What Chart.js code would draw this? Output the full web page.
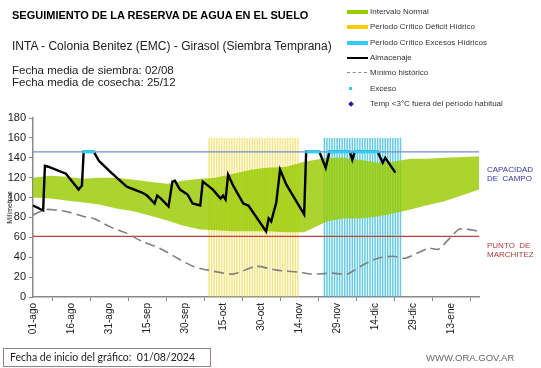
<!DOCTYPE html>
<html>
<head>
<meta charset="utf-8">
<script src="https://cdn.jsdelivr.net/npm/chart.js@4"></script>
<style>
  body { margin: 0; background: #fff; font-family: "Liberation Sans", Arial, sans-serif; }
  #wrap { position: relative; width: 541px; height: 368px; overflow: hidden; }
  #grafico { position: absolute; left: 0; top: 0; }
  .txt { position: absolute; white-space: nowrap; color: #222; }
  .ley { position: absolute; left: 370px; font-size: 8px; color: #333; white-space: nowrap; }
  .sw { position: absolute; left: 347px; width: 21px; height: 4px; }
</style>
</head>
<body>
<div id="wrap">
  <canvas id="grafico" width="541" height="368"></canvas>

  <div class="txt" style="left:12px; top:9px; font-size:11px; font-weight:bold; color:#000;">SEGUIMIENTO DE LA RESERVA DE AGUA  EN EL SUELO</div>
  <div class="txt" style="left:12px; top:39px; font-size:12px;">INTA - Colonia Benitez (EMC) - Girasol (Siembra Temprana)</div>
  <div class="txt" style="left:12px; top:64px; font-size:11.5px;">Fecha media de siembra: 02/08</div>
  <div class="txt" style="left:12px; top:76px; font-size:11.5px;">Fecha media de cosecha: 25/12</div>

  <!-- Leyenda -->
  <div class="sw" style="top:10px; background:#99cc00;"></div>
  <div class="ley" style="top:7px;">Intervalo Normal</div>
  <div class="sw" style="top:25px; background:#ffcc00;"></div>
  <div class="ley" style="top:22px;">Periodo Crítico Déficit Hídrico</div>
  <div class="sw" style="top:41px; background:#33ccff;"></div>
  <div class="ley" style="top:38px;">Periodo Crítico Excesos Hídricos</div>
  <div class="sw" style="top:57px; height:2px; background:#000;"></div>
  <div class="ley" style="top:53px;">Almacenaje</div>
  <div class="sw" style="top:72px; height:0; border-top:1.5px dashed #888; width:20px;"></div>
  <div class="ley" style="top:68px;">Mínimo histórico</div>
  <div class="sw" style="top:87px; left:349px; width:3px; height:3px; background:#33ccee;"></div>
  <div class="ley" style="top:84px;">Exceso</div>
  <div class="sw" style="top:102px; left:349px; width:4px; height:4px; background:#1a1aa0; transform:rotate(45deg);"></div>
  <div class="ley" style="top:99px;">Temp &lt;3°C fuera del período habitual</div>

  <!-- Etiquetas a la derecha -->
  <div class="txt" style="left:487px; top:165px; font-size:8px; line-height:9px; color:#3333aa;">CAPACIDAD<br>DE&nbsp; CAMPO</div>
  <div class="txt" style="left:487px; top:241px; font-size:8px; line-height:9px; color:#b03a3a;">PUNTO&nbsp; DE<br>MARCHITEZ</div>

  <!-- Pie -->
  <div class="txt" style="left:3px; top:348px; width:208px; height:19px; border:1px solid #9c7f7f; box-sizing:border-box;"></div>
  <div class="txt" style="left:10px; top:351px; font-family:Lato, sans-serif; font-size:10.5px; color:#222;">Fecha de inicio del gráfico:&nbsp; 01/08/2024</div>
  <div class="txt" style="left:426px; top:352px; font-size:9.5px; color:#666;">WWW.ORA.GOV.AR</div>
</div>

<script>
// --- Datos (días desde 01/08/2024, milímetros) ---
const tickDays = [0, 15, 30, 45, 60, 75, 90, 105, 120, 135, 150, 165];
const tickLabels = ["01-ago", "16-ago", "31-ago", "15-sep", "30-sep", "15-oct", "30-oct", "14-nov", "29-nov", "14-dic", "29-dic", "13-ene"];

// Intervalo normal
const bandDays  = [0, 7, 13, 20, 26, 33, 40, 46, 53, 59, 66, 72, 79, 86, 92, 100, 107, 116, 122, 129, 136, 142, 149, 155, 162, 168, 176];
const bandUpper = [120, 122, 121, 119, 120, 120, 118, 116, 114, 117, 119, 120, 124, 128, 130, 131, 136, 140, 140, 138, 135, 136, 139, 139, 140, 140.5, 141.5];
const bandLower = [100, 99, 97, 95, 93, 89, 86, 82, 77, 72, 68, 67, 66, 66, 66, 65, 65, 76, 79, 79, 81, 84, 88, 92, 96, 101, 108];

// Mínimo histórico
const minDays   = [0, 5, 13, 20, 24, 30, 37, 43, 50, 57, 63, 69, 79, 88, 96, 105, 110, 118, 124, 130, 136, 142, 147, 156, 160, 168, 172, 176];
const minValues = [82.5, 88, 86, 81, 79, 71, 64, 56, 49, 39, 31, 27, 23, 31, 27, 25, 23, 24, 23, 32, 39, 41, 39, 49, 48, 68, 68, 66];

// Almacenaje
const almDays   = [0, 4, 4.7, 6, 13, 18, 19.3, 20, 24, 26, 30, 37, 43, 45, 48, 49, 50.5, 53.5, 55, 56, 58, 61, 63, 66, 67, 71, 74, 75, 76, 77, 79, 83, 85, 92, 93, 94, 96, 97.5, 100, 107, 107.8, 113, 115.5, 117, 125, 126, 127, 136, 138, 139, 143];
const almValues = [92, 87, 132, 131, 124, 108, 112, 146, 146, 137, 127, 111, 105, 102, 94, 102, 99, 91, 116, 117, 108, 103, 94, 92, 116, 108, 99, 102, 98, 123, 112, 94, 92, 66, 79, 76, 95, 128, 113, 83, 146, 146, 130, 146, 146, 138, 146, 146, 135, 140, 125];

// Exceso (tramos en capacidad de campo)
const excesoRanges = [[20, 24], [108, 113], [117, 125], [127, 136]];
const excesoValue = 146;

// Periodos críticos
const deficitPeriod = [69.5, 105];
const excesoPeriod = [115, 145];
const periodTop = 160;

// Umbrales
const capacidadCampo = 146;
const puntoMarchitez = 61;
const xMax = 176;

// --- Hilfsfunktionen ---
function pares(xs, ys) {
    return xs.map((x, i) => ({ x: x, y: ys[i] }));
}

function franjas(rango) {
    const out = [];
    for (let d = rango[0]; d <= rango[1]; d++) out.push({ x: d, y: periodTop });
    return out;
}

const excesoPts = [];
excesoRanges.forEach(r => {
    for (let d = r[0]; d <= r[1]; d += 0.5) excesoPts.push({ x: d, y: excesoValue });
});

const ctx = document.getElementById("grafico").getContext("2d");

new Chart(ctx, {
    type: "line",
    data: {
        datasets: [
            // franjas primero, la banda verde encima (semi-transparente)
            { type: "bar", label: "Periodo Crítico Déficit Hídrico", data: franjas(deficitPeriod),
              backgroundColor: "rgba(245, 222, 100, 0.8)", barPercentage: 0.6, categoryPercentage: 1, grouped: false, order: 12 },
            { type: "bar", label: "Periodo Crítico Excesos Hídricos", data: franjas(excesoPeriod),
              backgroundColor: "rgba(70, 195, 228, 0.85)", barPercentage: 0.6, categoryPercentage: 1, grouped: false, order: 11 },
            { label: "lower", data: pares(bandDays, bandLower), borderWidth: 0, pointRadius: 0, fill: false, order: 10 },
            { label: "Intervalo Normal", data: pares(bandDays, bandUpper), borderWidth: 0, pointRadius: 0,
              fill: "-1", backgroundColor: "rgba(153, 204, 0, 0.82)", order: 9 },
            { label: "CC", data: [{ x: 0, y: capacidadCampo }, { x: xMax, y: capacidadCampo }],
              borderColor: "#6f8fc9", borderWidth: 1.2, pointRadius: 0, order: 6 },
            { label: "PM", data: [{ x: 0, y: puntoMarchitez }, { x: xMax, y: puntoMarchitez }],
              borderColor: "#b5473f", borderWidth: 1.2, pointRadius: 0, order: 5 },
            { label: "Mínimo histórico", data: pares(minDays, minValues), borderColor: "#808080",
              borderWidth: 1.6, borderDash: [10, 5], pointRadius: 0, tension: 0.2, order: 4 },
            { label: "Almacenaje", data: pares(almDays, almValues), borderColor: "#000",
              borderWidth: 2.4, pointRadius: 0, order: 3 },
            { type: "scatter", label: "Exceso", data: excesoPts, pointStyle: "rect", pointRadius: 2,
              backgroundColor: "#33ccee", borderWidth: 0, order: 1 }
        ]
    },
    options: {
        responsive: false,
        animation: false,
        layout: { padding: { left: 0, top: 118, right: 62, bottom: 0 } },
        plugins: {
            legend: { display: false },
            tooltip: { enabled: false }
        },
        scales: {
            x: {
                type: "linear",
                min: 0,
                max: xMax,
                offset: false,
                afterFit: s => { s.height = 71; },
                afterBuildTicks: s => { s.ticks = tickDays.map(v => ({ value: v })); },
                ticks: {
                    minRotation: 90,
                    maxRotation: 90,
                    autoSkip: false,
                    padding: 2,
                    color: "#222",
                    font: { family: "Liberation Sans", size: 10 },
                    callback: (v, i) => tickLabels[i]
                },
                grid: { drawOnChartArea: false, tickLength: 4, color: "#888" },
                border: { color: "#888", width: 1.5 }
            },
            y: {
                min: 0,
                max: 180,
                afterFit: s => { s.width = 33; },
                ticks: {
                    stepSize: 20,
                    padding: 3,
                    color: "#222",
                    font: { family: "Liberation Sans", size: 11 }
                },
                title: {
                    display: true,
                    text: "Milímetros",
                    padding: { top: 6, bottom: 0 },
                    color: "#222",
                    font: { family: "Liberation Sans", size: 7 }
                },
                grid: { drawOnChartArea: false, tickLength: 4, color: "#888" },
                border: { color: "#888", width: 1.5 }
            }
        }
    }
});
</script>
</body>
</html>
